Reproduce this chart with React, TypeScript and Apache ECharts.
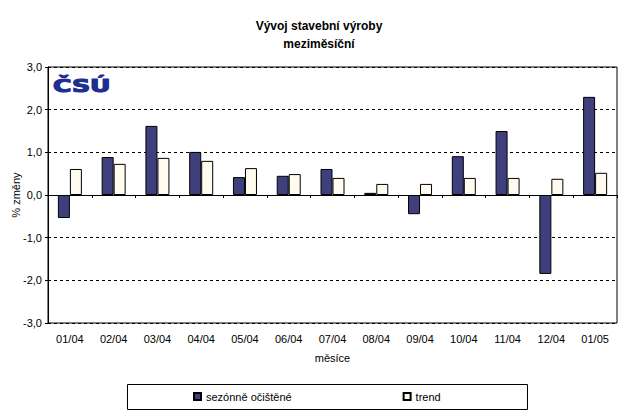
import React, { useEffect, useRef } from "react";
import * as echarts from "echarts";

const categories = ["01/04", "02/04", "03/04", "04/04", "05/04", "06/04", "07/04", "08/04", "09/04", "10/04", "11/04", "12/04", "01/05"];
const seasonal = [-0.54, 0.89, 1.62, 1.01, 0.42, 0.45, 0.61, 0.05, -0.45, 0.91, 1.5, -1.85, 2.3];
const trend = [0.61, 0.73, 0.87, 0.8, 0.63, 0.49, 0.4, 0.26, 0.26, 0.4, 0.4, 0.38, 0.52];
const seriesNames = ["sezónně očištěné", "trend"];
const titleLines = ["Vývoj stavební výroby", "meziměsíční"];
const yName = "% změny";
const xName = "měsíce";

const FONT = "Liberation Sans, Arial, sans-serif";

export default function App() {
  const ref = useRef<HTMLDivElement>(null);
  useEffect(() => {
    document.body.style.margin = "0";
    const chart = echarts.init(ref.current!, null, { renderer: "svg" });
    chart.setOption({
      animation: false,
      backgroundColor: "#ffffff",
      textStyle: { fontFamily: FONT },
      title: {
        text: titleLines.join("\n"),
        left: "center",
        top: 17,
        padding: 0,
        textStyle: { fontSize: 12, fontWeight: "bold", color: "#000", lineHeight: 18, fontFamily: FONT },
      },
      grid: {
        left: 48,
        right: 21,
        top: 67,
        bottom: 96,
        show: true,
        borderColor: "#000",
        borderWidth: 1,
        backgroundColor: "transparent",
        containLabel: false,
        outerBoundsMode: "none",
      },
      legend: {
        data: seriesNames,
        left: 193,
        top: 391,
        padding: 0,
        itemWidth: 7,
        itemHeight: 7,
        itemGap: 111,
        icon: "rect",
        textStyle: { fontSize: 11, color: "#000", fontFamily: FONT },
      },
      graphic: [
        {
          type: "rect",
          shape: { x: 127.5, y: 384.5, width: 400, height: 25 },
          style: { fill: "none", stroke: "#000", lineWidth: 1 },
          silent: true,
        },
        {
          type: "text",
          x: 53,
          y: 77,
          scaleX: 1.4,
          style: {
            text: "ČSÚ",
            font: "bold 18px DejaVu Sans",
            fill: "#1f2f90",
            stroke: "#1f2f90",
            lineWidth: 1.2,
            textVerticalAlign: "top",
          },
          silent: true,
        },
      ],
      xAxis: [
        {
          type: "category",
          data: categories,
          position: "bottom",
          axisLine: { show: false, onZero: false },
          axisTick: { show: false },
          axisLabel: { fontSize: 11, color: "#000", margin: 10, interval: 0, fontFamily: FONT },
          name: xName,
          nameLocation: "middle",
          nameGap: 29,
          nameMoveOverlap: false,
          nameTextStyle: { fontSize: 11, color: "#000", fontFamily: FONT },
          splitLine: { show: false },
        },
        {
          type: "category",
          data: categories,
          position: "bottom",
          axisLine: { show: true, onZero: true, lineStyle: { color: "#000", width: 1 } },
          axisTick: { show: true, length: 3, inside: false, alignWithLabel: false, interval: 0, lineStyle: { color: "#000" } },
          axisLabel: { show: false },
          splitLine: { show: false },
        },
      ],
      yAxis: {
        type: "value",
        min: -3,
        max: 3,
        interval: 1,
        axisLine: { show: true, lineStyle: { color: "#000" } },
        axisTick: { show: true, length: 3, inside: false, lineStyle: { color: "#000" } },
        axisLabel: {
          fontSize: 11,
          color: "#000",
          margin: 6,
          fontFamily: FONT,
          formatter: (v: number) => v.toFixed(1).replace(".", ","),
        },
        splitLine: { show: true, lineStyle: { color: "#000", type: [3, 3], width: 1 } },
        name: yName,
        nameLocation: "middle",
        nameGap: 27,
        nameRotate: 90,
        nameMoveOverlap: false,
        nameTextStyle: { fontSize: 11, color: "#000", fontFamily: FONT },
      },
      series: [
        {
          name: seriesNames[0],
          type: "bar",
          data: seasonal,
          barWidth: 12,
          barGap: "0%",
          xAxisIndex: 0,
          itemStyle: { color: "#3f3f7e", borderColor: "#000", borderWidth: 1 },
        },
        {
          name: seriesNames[1],
          type: "bar",
          data: trend,
          barWidth: 12,
          barGap: "0%",
          xAxisIndex: 0,
          itemStyle: { color: "#fffbef", borderColor: "#000", borderWidth: 1 },
        },
      ],
    });
    return () => chart.dispose();
  }, []);
  return <div ref={ref} style={{ width: 638, height: 419 }} />;
}
